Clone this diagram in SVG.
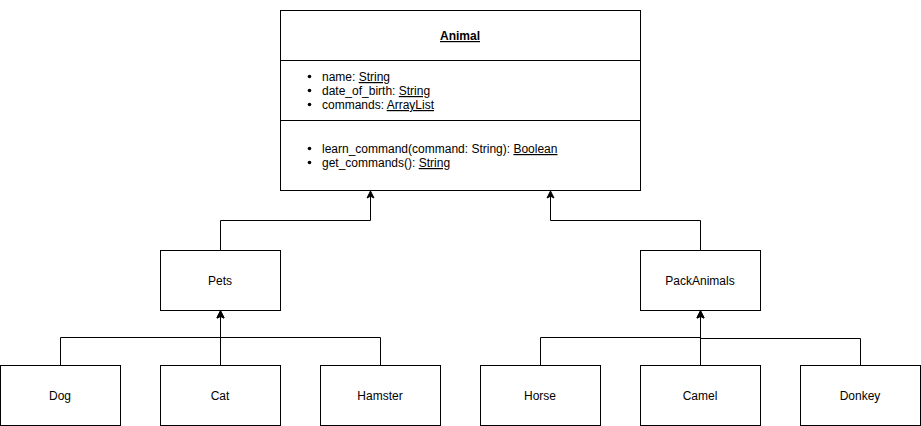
<svg xmlns="http://www.w3.org/2000/svg" width="921" height="426" viewBox="0 0 921 426">
<defs>
<style>
.box{fill:#fff;stroke:#000;stroke-width:1}
.ln{fill:none;stroke:#000;stroke-width:1}
text{font-family:"Liberation Sans",Arial,Helvetica,sans-serif;font-size:12px;fill:#000}
.c{text-anchor:middle}
.u{text-decoration:underline}
</style>
<marker id="arr" markerWidth="10" markerHeight="10" viewBox="0 0 10 10" refX="8" refY="5" orient="auto" markerUnits="userSpaceOnUse">
<path d="M1,1.5 L8,5 L1,8.5 L2.8,5 Z" fill="#000" stroke="#000" stroke-width="1"/>
</marker>
</defs>
<rect width="921" height="426" fill="#fff"/>
<g id="connectors">
<path class="ln" d="M220.5,250 V220.5 H370.5 V191" marker-end="url(#arr)"/>
<path class="ln" d="M700.5,250 V220.5 H550.5 V191" marker-end="url(#arr)"/>
<path class="ln" d="M60.5,365 V337.5 H220.5 V311" marker-end="url(#arr)"/>
<path class="ln" d="M220.5,365 V311" marker-end="url(#arr)"/>
<path class="ln" d="M380.5,365 V337.5 H220.5 V311" marker-end="url(#arr)"/>
<path class="ln" d="M540.5,365 V337.5 H700.5 V311" marker-end="url(#arr)"/>
<path class="ln" d="M700.5,365 V311" marker-end="url(#arr)"/>
<path class="ln" d="M860.5,365 V338.5 H700.5 V311" marker-end="url(#arr)"/>
</g>
<g id="Animal">
<rect class="box" x="280.5" y="10.5" width="360" height="180"/>
<line class="ln" x1="280.5" y1="60.5" x2="640.5" y2="60.5"/>
<line class="ln" x1="280.5" y1="120.5" x2="640.5" y2="120.5"/>
<text class="c" x="460" y="40" font-weight="bold"><tspan class="u">Animal</tspan></text>
<g>
<circle cx="309.5" cy="76.5" r="1.8" fill="#000"/>
<circle cx="309.5" cy="90.5" r="1.8" fill="#000"/>
<circle cx="309.5" cy="104.5" r="1.8" fill="#000"/>
<circle cx="309.5" cy="148.5" r="1.8" fill="#000"/>
<circle cx="309.5" cy="162.5" r="1.8" fill="#000"/>
<text x="322" y="81">name: <tspan class="u">String</tspan></text>
<text x="322" y="95">date_of_birth: <tspan class="u">String</tspan></text>
<text x="322" y="109">commands: <tspan class="u">ArrayList</tspan></text>
<text x="322" y="153">learn_command(command: String): <tspan class="u">Boolean</tspan></text>
<text x="322" y="167">get_commands(): <tspan class="u">String</tspan></text>
</g>
</g>
<g id="Pets"><rect class="box" x="160.5" y="250.5" width="120" height="60"/><text class="c" x="220" y="285">Pets</text></g>
<g id="PackAnimals"><rect class="box" x="640.5" y="250.5" width="120" height="60"/><text class="c" x="700" y="285">PackAnimals</text></g>
<g id="Dog"><rect class="box" x="0.5" y="365.5" width="120" height="60"/><text class="c" x="60" y="400">Dog</text></g>
<g id="Cat"><rect class="box" x="160.5" y="365.5" width="120" height="60"/><text class="c" x="220" y="400">Cat</text></g>
<g id="Hamster"><rect class="box" x="320.5" y="365.5" width="120" height="60"/><text class="c" x="380" y="400">Hamster</text></g>
<g id="Horse"><rect class="box" x="480.5" y="365.5" width="120" height="60"/><text class="c" x="540" y="400">Horse</text></g>
<g id="Camel"><rect class="box" x="640.5" y="365.5" width="120" height="60"/><text class="c" x="700" y="400">Camel</text></g>
<g id="Donkey"><rect class="box" x="800.5" y="365.5" width="120" height="60"/><text class="c" x="860" y="400">Donkey</text></g>
</svg>
